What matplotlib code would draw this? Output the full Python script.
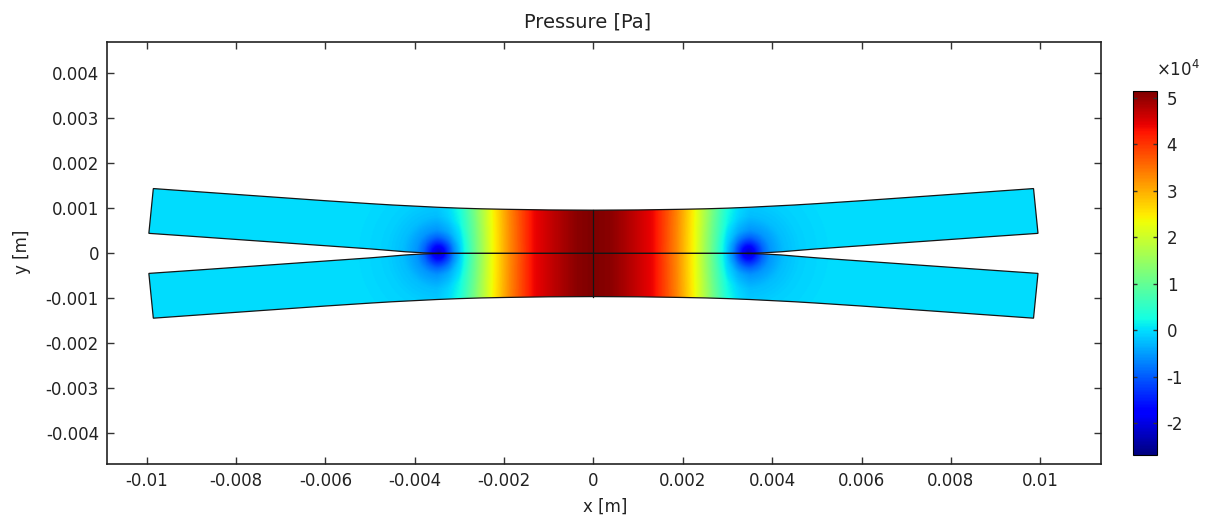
import numpy as np
import matplotlib
matplotlib.use('Agg')
import matplotlib.pyplot as plt
from matplotlib.patches import Polygon
from matplotlib.ticker import FuncFormatter

plt.rcParams['font.family'] = ['DejaVu Sans']
plt.rcParams['axes.unicode_minus'] = False

# edges of the upper beam in mm (lower beam = mirror at y=0, both symmetric in x)
top_x = np.array([0, 1, 2, 2.5, 3, 3.5, 4, 4.5, 5, 6, 7, 8, 9, 9.85])
top_y = np.array([0.96, 0.965, 0.98, 0.99, 1.005, 1.025, 1.05, 1.075, 1.105, 1.17, 1.24, 1.31, 1.38, 1.44])
bot_x = np.array([0, 3.2, 3.5, 3.8, 4.2, 4.6, 5, 6, 7, 8, 9, 9.95])
bot_y = np.array([0, 0, 0.003, 0.012, 0.035, 0.068, 0.10, 0.17, 0.24, 0.31, 0.38, 0.445])

# pressure along the contact, x in mm, p in 1e4 Pa
prof_x = np.array([0, 0.4, 0.83, 1.34, 1.87, 2.27, 2.68, 2.99, 3.25, 3.5, 10.5])
prof_p = np.array([5.15, 5.05, 4.76, 4.37, 3.35, 2.41, 1.23, 0.45, 0.15, 0.0, 0.0])

# low pressure spot at the edge of the contact zone
edge_x = 3.46
dip_r = np.array([0, 0.1, 0.2, 0.35, 0.5, 0.8, 1.2, 2.0])
dip_p = np.array([-2.2, -1.9, -1.45, -0.9, -0.55, -0.25, -0.1, 0])

p_min, p_max = -2.69e4, 5.15e4
xticks = [-0.01, -0.008, -0.006, -0.004, -0.002, 0, 0.002, 0.004, 0.006, 0.008, 0.01]
yticks = [-0.004, -0.003, -0.002, -0.001, 0, 0.001, 0.002, 0.003, 0.004]
cticks = [-2, -1, 0, 1, 2, 3, 4, 5]

# field on a grid (mm)
xs = np.linspace(-10.3, 10.3, 1031)
ys = np.linspace(-1.6, 1.6, 161)
X, Y = np.meshgrid(xs, ys)
base = np.interp(np.abs(X), prof_x, prof_p)
r = np.hypot(np.abs(X) - edge_x, Y)
P = (base + np.interp(r, dip_r, dip_p)) * 1e4

# outline of upper beam
ux = np.concatenate([-bot_x[::-1], bot_x[1:], top_x[::-1], -top_x[1:]]) * 1e-3
uy = np.concatenate([bot_y[::-1], bot_y[1:], top_y[::-1], top_y[1:]]) * 1e-3

fig = plt.figure(figsize=(12.09, 5.17), dpi=100)
ax = fig.add_axes([107.3 / 1209, 1 - 464 / 517, (1101 - 107.3) / 1209, (464 - 42.3) / 517])

for sgn in (1, -1):
    patch = Polygon(np.column_stack([ux, sgn * uy]), closed=True, fill=False,
                    ec='#151515', lw=0.9, zorder=3)
    ax.add_patch(patch)
    im = ax.imshow(P, extent=[xs[0] * 1e-3, xs[-1] * 1e-3, ys[0] * 1e-3, ys[-1] * 1e-3],
                   origin='lower', cmap='jet', vmin=p_min, vmax=p_max,
                   interpolation='bilinear', aspect='auto', zorder=1)
    im.set_clip_path(patch)

ax.plot([0, 0], [-top_y[0] * 1e-3, top_y[0] * 1e-3], color='#151515', lw=0.9, zorder=3)

ax.set_xlim(-0.01088, 0.01136)
ax.set_ylim(-0.00468, 0.00469)
ax.set_xticks(xticks)
ax.set_yticks(yticks)
ax.xaxis.set_major_formatter(FuncFormatter(lambda v, p: '%g' % v))
ax.yaxis.set_major_formatter(FuncFormatter(lambda v, p: '%g' % v))
ax.tick_params(direction='in', top=True, right=True, length=5, width=1,
               color='#333333', labelsize=12, labelcolor='#222222', pad=6)
for s in ax.spines.values():
    s.set_linewidth(1.2)
    s.set_color('#222222')

cax = fig.add_axes([1133 / 1209, 1 - 455 / 517, 24 / 1209, 364 / 517])
cb = fig.colorbar(im, cax=cax)
cb.set_ticks([c * 1e4 for c in cticks])
cb.ax.yaxis.set_major_formatter(FuncFormatter(lambda v, p: '%d' % round(v / 1e4)))
cax.tick_params(direction='in', left=True, right=True, length=3, width=1,
                color='#333333', labelsize=12, labelcolor='#222222', pad=7)
cb.outline.set_linewidth(0.8)

fig.text(1178 / 1209, 1 - 70 / 517, r'$\times10^4$', ha='center', va='center',
         fontsize=12, color='#222222')
fig.text(587.5 / 1209, 1 - 22 / 517, 'Pressure [Pa]', ha='center', va='center',
         fontsize=14, color='#222222')
fig.text(605 / 1209, 1 - 507 / 517, 'x [m]', ha='center', va='center',
         fontsize=12, color='#222222')
fig.text(22 / 1209, 1 - 252 / 517, 'y [m]', ha='center', va='center',
         rotation=90, fontsize=12, color='#222222')

fig.savefig('out.png', dpi=100)
